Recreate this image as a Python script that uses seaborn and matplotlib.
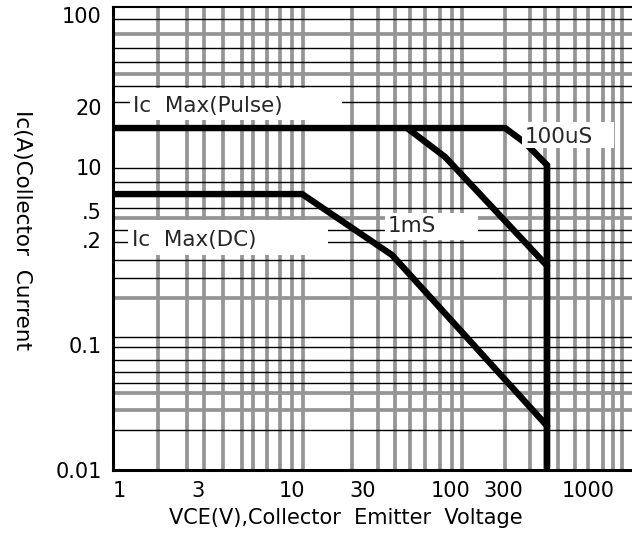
import numpy as np
import pandas as pd
import seaborn as sns
import matplotlib.pyplot as plt
from matplotlib.patches import Rectangle

# safe operating area curves (VCE in V, Ic in A, as drawn on the log-log grid)
dc_vce = [1.0, 15.2, 55.4, 516]
dc_ic = [2.42, 2.42, 0.72, 0.024]

ms1_vce = [68.8, 119, 516]
ms1_ic = [9.0, 5.06, 0.58]

us100_vce = [1.0, 282, 376, 516, 516]
us100_ic = [9.0, 9.0, 6.7, 4.3, 0.0105]

# tick labels as printed on the sheet
xtick_vals = [1.09, 3.4, 13.1, 36.5, 128, 274, 930]
xtick_labels = ["1", "3", "10", "30", "100", "300", "1000"]
ytick_vals = [85, 13.7, 4.15, 1.73, 0.97, 0.12, 0.01]
ytick_labels = ["100", "20", "10", ".5", ".2", "0.1", "0.01"]

# chart paper grid
grid_v = [1.91, 2.9, 3.7, 4.87, 6.4, 7.5, 9.17, 11.06, 13.14, 15.4,
          31.2, 45.3, 57.9, 71.8, 89.1, 110.6, 131.4, 151.8,
          281.8, 403.8, 501, 604, 772, 930, 1155, 1334, 1518]
grid_h_black = [78.7, 44.2, 33.5, 20.8, 15.1, 4.06, 3.08, 1.83, 1.18, 0.93,
                0.65, 0.456, 0.141, 0.116, 0.089, 0.070, 0.0565, 0.022]
grid_h_gray = [58.4, 26.4, 1.50, 0.306, 0.046, 0.033]

sns.set_theme(style="white")
plt.rcParams['font.family'] = ['DejaVu Sans']

fig = plt.figure(figsize=(6.32, 5.37), dpi=100)
ax = fig.add_axes([113 / 632, 67 / 537, 519 / 632, 463 / 537])
ax.set_xscale("log")
ax.set_yscale("log")
ax.set_xlim(1, 1750)
ax.set_ylim(0.01, 100)

for v in grid_v:
    ax.axvline(v, color="#959595", lw=2.7, zorder=1)
for h in grid_h_gray:
    ax.axhline(h, color="#959595", lw=2.7, zorder=1)
for h in grid_h_black:
    ax.axhline(h, color="black", lw=1.0, zorder=1.5)

for xs, ys in [(dc_vce, dc_ic), (ms1_vce, ms1_ic), (us100_vce, us100_ic)]:
    sns.lineplot(x=xs, y=ys, sort=False, estimator=None, color="black",
                 lw=4.6, ax=ax, zorder=3, solid_joinstyle="miter")

# labels sitting in white boxes on the grid
labels = [
    ("Ic  Max(Pulse)", 0.0385, 0.786, (0.033, 0.756, 0.408, 0.069)),
    ("Ic  Max(DC)", 0.0366, 0.497, (0.029, 0.464, 0.385, 0.076)),
    ("1mS", 0.530, 0.527, (0.524, 0.497, 0.179, 0.058)),
    ("100uS", 0.794, 0.719, (0.788, 0.695, 0.177, 0.057)),
]
for txt, tx, ty, (bx, by, bw, bh) in labels:
    ax.add_patch(Rectangle((bx, by), bw, bh, transform=ax.transAxes,
                           facecolor="white", edgecolor="none", zorder=4))
    ax.text(tx, ty, txt, transform=ax.transAxes, fontsize=15.5,
            ha="left", va="center", zorder=5)

ax.set_xticks(xtick_vals)
ax.set_xticklabels(xtick_labels)
ax.set_yticks(ytick_vals)
ax.set_yticklabels(ytick_labels)
ax.minorticks_off()
ax.tick_params(axis="x", length=0, pad=8, labelsize=15, colors="black")
ax.tick_params(axis="y", length=0, pad=8, labelsize=15, colors="black")

ax.set_xlabel("VCE(V),Collector  Emitter  Voltage", fontsize=15, color="black")
ax.xaxis.set_label_coords(0.449, -0.104)
ax.xaxis.label.set_va("center")
ax.set_ylabel("Ic(A)Collector  Current", fontsize=15.5, color="black", rotation=270)
ax.yaxis.set_label_coords(-0.175, 0.518)
ax.yaxis.label.set_va("center")

ax.spines["left"].set_linewidth(2.2)
ax.spines["bottom"].set_linewidth(2.2)
ax.spines["top"].set_linewidth(1.5)
ax.spines["right"].set_visible(False)
for s in ax.spines.values():
    s.set_color("black")
    s.set_zorder(6)

fig.savefig("out.png", dpi=100)
